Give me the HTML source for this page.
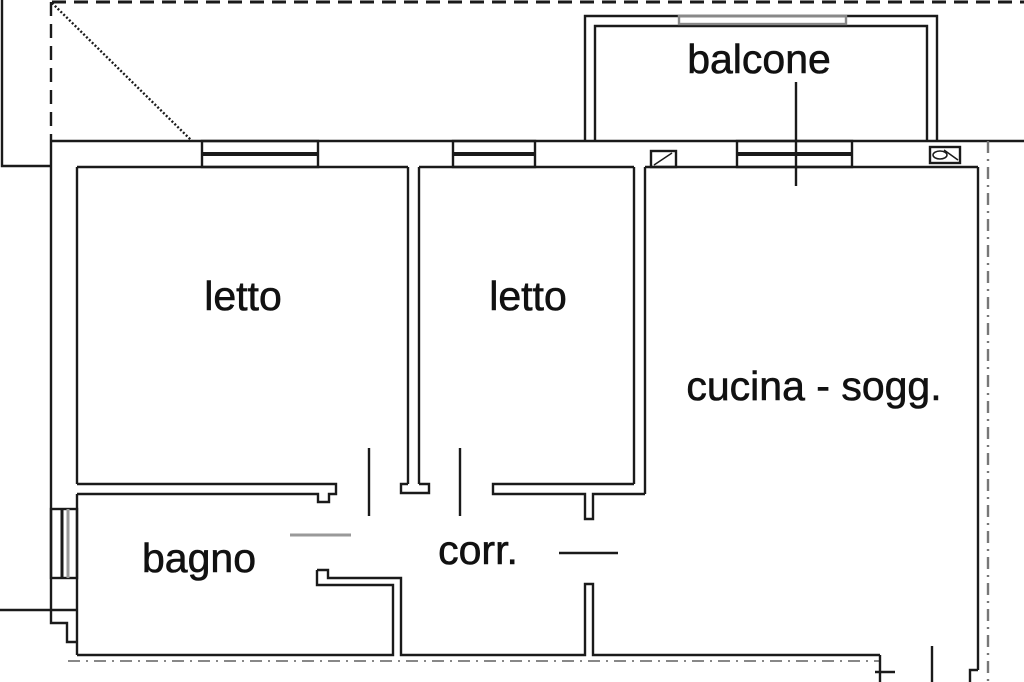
<!DOCTYPE html>
<html><head><meta charset="utf-8"><style>
html,body{margin:0;padding:0;background:#fff;width:1024px;height:682px;overflow:hidden}
svg{display:block}
text{font-family:"Liberation Sans",sans-serif;font-size:41px;fill:#111;stroke:#111;stroke-width:0.6}
</style></head><body>
<svg width="1024" height="682" viewBox="0 0 1024 682" xmlns="http://www.w3.org/2000/svg">
<g fill="none" stroke="#1a1a1a" stroke-width="2.4">
<polyline points="2,0 2,166 51,166"/>
<line x1="51" y1="2" x2="51" y2="141" stroke-dasharray="14,8"/>
<line x1="52" y1="2" x2="1024" y2="2" stroke-dasharray="14,8" stroke-width="3"/>
<line x1="52" y1="3" x2="192" y2="141" stroke-dasharray="2,2"/>
<line x1="51" y1="141" x2="1024" y2="141"/>
<line x1="77" y1="167" x2="408" y2="167"/>
<line x1="419" y1="167" x2="634" y2="167"/>
<line x1="645" y1="167" x2="978" y2="167"/>
<g>
<rect x="202" y="141" width="116" height="26"/>
<line x1="202" y1="154" x2="318" y2="154" stroke-width="4"/>
<rect x="453" y="141" width="82" height="26"/>
<line x1="453" y1="154" x2="535" y2="154" stroke-width="4"/>
<rect x="737" y="141" width="115" height="26"/>
<line x1="737" y1="154" x2="852" y2="154" stroke-width="4"/>
</g>
<polyline points="585,141 585,16 937,16 937,141"/>
<polyline points="595,141 595,26 927,26 927,141"/>
<rect x="679" y="16" width="167" height="8" stroke="#888"/>
<line x1="796" y1="82" x2="796" y2="186"/>
<rect x="651" y="151" width="25" height="16"/>
<line x1="654" y1="165" x2="672" y2="153" stroke-width="1.5"/>
<rect x="930" y="147" width="30" height="16"/>
<ellipse cx="940" cy="155" rx="7" ry="4" stroke-width="1.5"/>
<line x1="944" y1="150" x2="958" y2="160" stroke-width="1.5"/>
<line x1="51" y1="141" x2="51" y2="610"/>
<line x1="77" y1="167" x2="77" y2="484"/>
<line x1="77" y1="494" x2="77" y2="655"/>
<rect x="51" y="509" width="26" height="69"/>
<line x1="62" y1="509" x2="62" y2="578" stroke-width="3"/>
<line x1="68" y1="509" x2="68" y2="578" stroke="#999" stroke-width="3"/>
<line x1="0" y1="610" x2="77" y2="610"/>
<polyline points="51,610 51,623 67,623 67,642 77,642"/>
<line x1="408" y1="167" x2="408" y2="484"/>
<line x1="419" y1="167" x2="419" y2="484"/>
<line x1="634" y1="167" x2="634" y2="484"/>
<line x1="645" y1="167" x2="645" y2="494"/>
<polyline points="77,484 336,484 336,494 329,494 329,502 318,502 318,494 77,494"/>
<polyline points="408,484 401,484 401,493 429,493 429,484 419,484"/>
<polyline points="634,484 493,484 493,494 585,494 585,519 593,519 593,494 645,494"/>
<line x1="369" y1="448" x2="369" y2="516"/>
<line x1="460" y1="448" x2="460" y2="516"/>
<line x1="290" y1="535" x2="351" y2="535" stroke="#999" stroke-width="3"/>
<line x1="559" y1="553" x2="618" y2="553"/>
<polyline points="317,570 328,570 328,578 401,578 401,655 585,655 585,584 593,584 593,655 880,655"/>
<polyline points="317,570 317,585 393,585 393,655 77,655"/>
<line x1="978" y1="167" x2="978" y2="670"/>
<polyline points="978,670 970,670 970,682"/>
<line x1="988" y1="141" x2="988" y2="682" stroke="#777" stroke-dasharray="12,6,2,6"/>
<line x1="68" y1="661" x2="880" y2="661" stroke="#888" stroke-width="2" stroke-dasharray="12,6,2,6"/>
<polyline points="880,655 880,682"/>
<line x1="875" y1="672" x2="895" y2="672"/>
<line x1="932" y1="646" x2="932" y2="682"/>
</g>
<text x="243" y="310" text-anchor="middle">letto</text>
<text x="528" y="310" text-anchor="middle">letto</text>
<text x="814" y="400" text-anchor="middle">cucina - sogg.</text>
<text x="759" y="73" text-anchor="middle">balcone</text>
<text x="199" y="572" text-anchor="middle">bagno</text>
<text x="478" y="564" text-anchor="middle">corr.</text>
</svg>
</body></html>
